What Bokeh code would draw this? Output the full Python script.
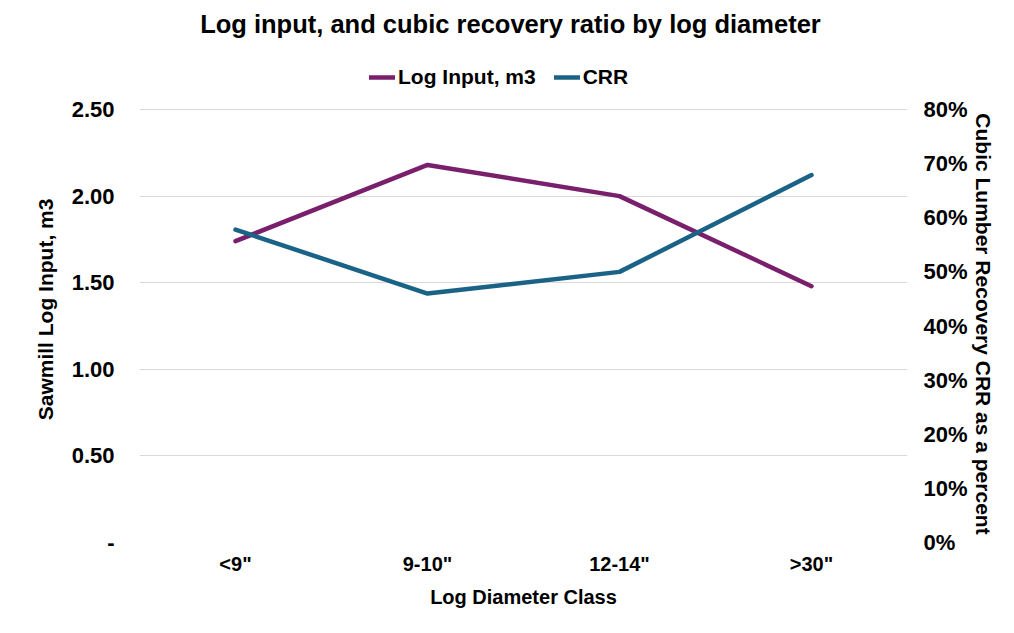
from bokeh.plotting import figure
from bokeh.models import (Range1d, LinearAxis, FixedTicker, NumeralTickFormatter,
                          CustomJSTickFormatter, Legend, LegendItem, ColumnDataSource, Label)
from bokeh.embed import file_html
from bokeh.resources import INLINE

categories = ['<9"', '9-10"', '12-14"', '>30"']
log_input = [1.74, 2.18, 2.00, 1.48]
crr = [0.578, 0.46, 0.50, 0.679]
left_ticks = [0, 0.5, 1.0, 1.5, 2.0, 2.5]
right_ticks = [0, 0.1, 0.2, 0.3, 0.4, 0.5, 0.6, 0.7, 0.8]

PURPLE = "#7a1f6c"
TEAL = "#1a6386"
FONT = "Liberation Sans"
NB = "\u00a0"

W, H = 998, 617
BORDER_B = 75
GRID_H = 433                      # px spanned by 0..2.5
FRAME_H = H - BORDER_B            # frame runs to canvas top (title/legend live inside)
Y_TOP = 2.5 * FRAME_H / GRID_H
Y2_TOP = 0.8 * FRAME_H / GRID_H

src = ColumnDataSource(dict(cat=categories, log_input=log_input, crr=crr))

p = figure(x_range=categories, y_range=Range1d(0, Y_TOP), width=W, height=H,
           output_backend="svg", toolbar_location=None, title=None,
           min_border_left=139, min_border_right=91, min_border_top=0, min_border_bottom=BORDER_B)
p.outline_line_color = None
p.background_fill_color = "white"
p.border_fill_color = "white"

p.extra_y_ranges = {"crr": Range1d(0, Y2_TOP)}

r1 = p.line("cat", "log_input", source=src, line_color=PURPLE, line_width=4.5, line_cap="round", line_join="round")
r2 = p.line("cat", "crr", source=src, line_color=TEAL, line_width=4.5, line_cap="round", line_join="round", y_range_name="crr")

right = LinearAxis(y_range_name="crr", ticker=FixedTicker(ticks=right_ticks),
                   formatter=NumeralTickFormatter(format="0%"),
                   axis_label=NB * 18 + "Cubic Lumber Recovery CRR as a percent")
p.add_layout(right, "right")

p.yaxis[0].ticker = FixedTicker(ticks=left_ticks)
p.yaxis[0].formatter = CustomJSTickFormatter(code='return tick == 0 ? "-" : tick.toFixed(2);')
p.yaxis[0].axis_label = "Sawmill Log Input, m3" + NB * 13
p.xaxis.axis_label = "Log Diameter Class"

for ax in p.axis:
    ax.axis_line_color = None
    ax.major_tick_line_color = None
    ax.minor_tick_line_color = None
    ax.major_tick_out = 0
    ax.major_tick_in = 0
    ax.minor_tick_out = 0
    ax.minor_tick_in = 0
    ax.major_label_text_font = FONT
    ax.major_label_text_font_size = "22px"
    ax.major_label_text_font_style = "bold"
    ax.major_label_text_color = "#000000"
    ax.axis_label_text_font = FONT
    ax.axis_label_text_font_size = "21px"
    ax.axis_label_text_font_style = "bold"
    ax.axis_label_text_color = "#000000"

p.xaxis.major_label_text_font_size = "20px"
p.xaxis.axis_label_text_font_size = "20px"

p.yaxis[0].major_label_standoff = 25
p.yaxis[0].axis_label_standoff = 12
right.major_label_standoff = 16
right.axis_label_standoff = 1
p.xaxis.major_label_standoff = 10
p.xaxis.axis_label_standoff = 8

p.xgrid.grid_line_color = None
p.ygrid.grid_line_color = "#d9d9d9"
p.ygrid.grid_line_width = 1

legend = Legend(items=[LegendItem(label="Log Input, m3", renderers=[r1]),
                       LegendItem(label="CRR", renderers=[r2])],
                orientation="horizontal", location=(230, 453),
                label_text_font=FONT, label_text_font_size="21px", label_text_font_style="bold",
                label_text_color="#000000", glyph_width=26, glyph_height=20,
                label_standoff=3, spacing=18, border_line_color=None,
                background_fill_alpha=0, padding=3, margin=0)
p.add_layout(legend, "center")

title = Label(x=1.932, y=(550 - 31) * 2.5 / GRID_H,
              text="Log input, and cubic recovery ratio by log diameter",
              text_align="center", text_baseline="middle",
              text_font=FONT, text_font_size="25.5px", text_font_style="bold", text_color="#000000")
p.add_layout(title)

open("out.html", "w").write(file_html(p, INLINE))
